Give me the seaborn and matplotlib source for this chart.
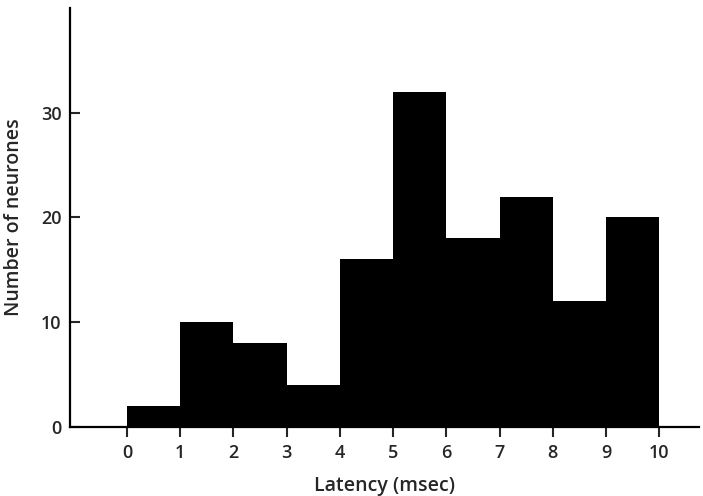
import numpy as np
import matplotlib
matplotlib.use("Agg")
import matplotlib.pyplot as plt
import seaborn as sns

# latency bins (msec) and neurone counts
bin_edges = [0, 1, 2, 3, 4, 5, 6, 7, 8, 9, 10]
bin_left = [0, 1, 2, 3, 4, 5, 6, 7, 8, 9]
counts = [2, 10, 8, 4, 16, 32, 18, 22, 12, 20]
y_ticks = [0, 10, 20, 30]

sns.set_style("white")
plt.rcParams["font.family"] = ["Open Sans", "DejaVu Sans"]

fig = plt.figure(figsize=(7.03, 4.96), dpi=100)
ax = fig.add_axes([0.0996, 0.139, 0.895, 0.845])

sns.histplot(x=bin_left, weights=counts, bins=bin_edges, color="black",
             edgecolor="black", alpha=1, linewidth=0, ax=ax)

ax.set_xlim(-1.07, 10.75)
ax.set_ylim(0, 40)
ax.set_xticks(bin_edges)
ax.set_xticklabels([str(v) for v in bin_edges], fontweight="semibold")
ax.set_yticks(y_ticks)
ax.set_yticklabels([str(v) for v in y_ticks], fontweight="semibold")
ax.tick_params(axis="x", direction="out", length=7, width=1.5, labelsize=13, pad=5)
ax.tick_params(axis="y", direction="in", length=7, width=1.5, labelsize=13, pad=6)
ax.tick_params(bottom=True, left=True)

sns.despine(ax=ax)
for s in ["left", "bottom"]:
    ax.spines[s].set_linewidth(1.6)
    ax.spines[s].set_color("black")

ax.set_xlabel("Latency (msec)", fontsize=14, fontweight="semibold", labelpad=10)
ax.set_ylabel("Number of neurones", fontsize=14, fontweight="semibold", labelpad=12)

fig.savefig("out.png", dpi=100)
